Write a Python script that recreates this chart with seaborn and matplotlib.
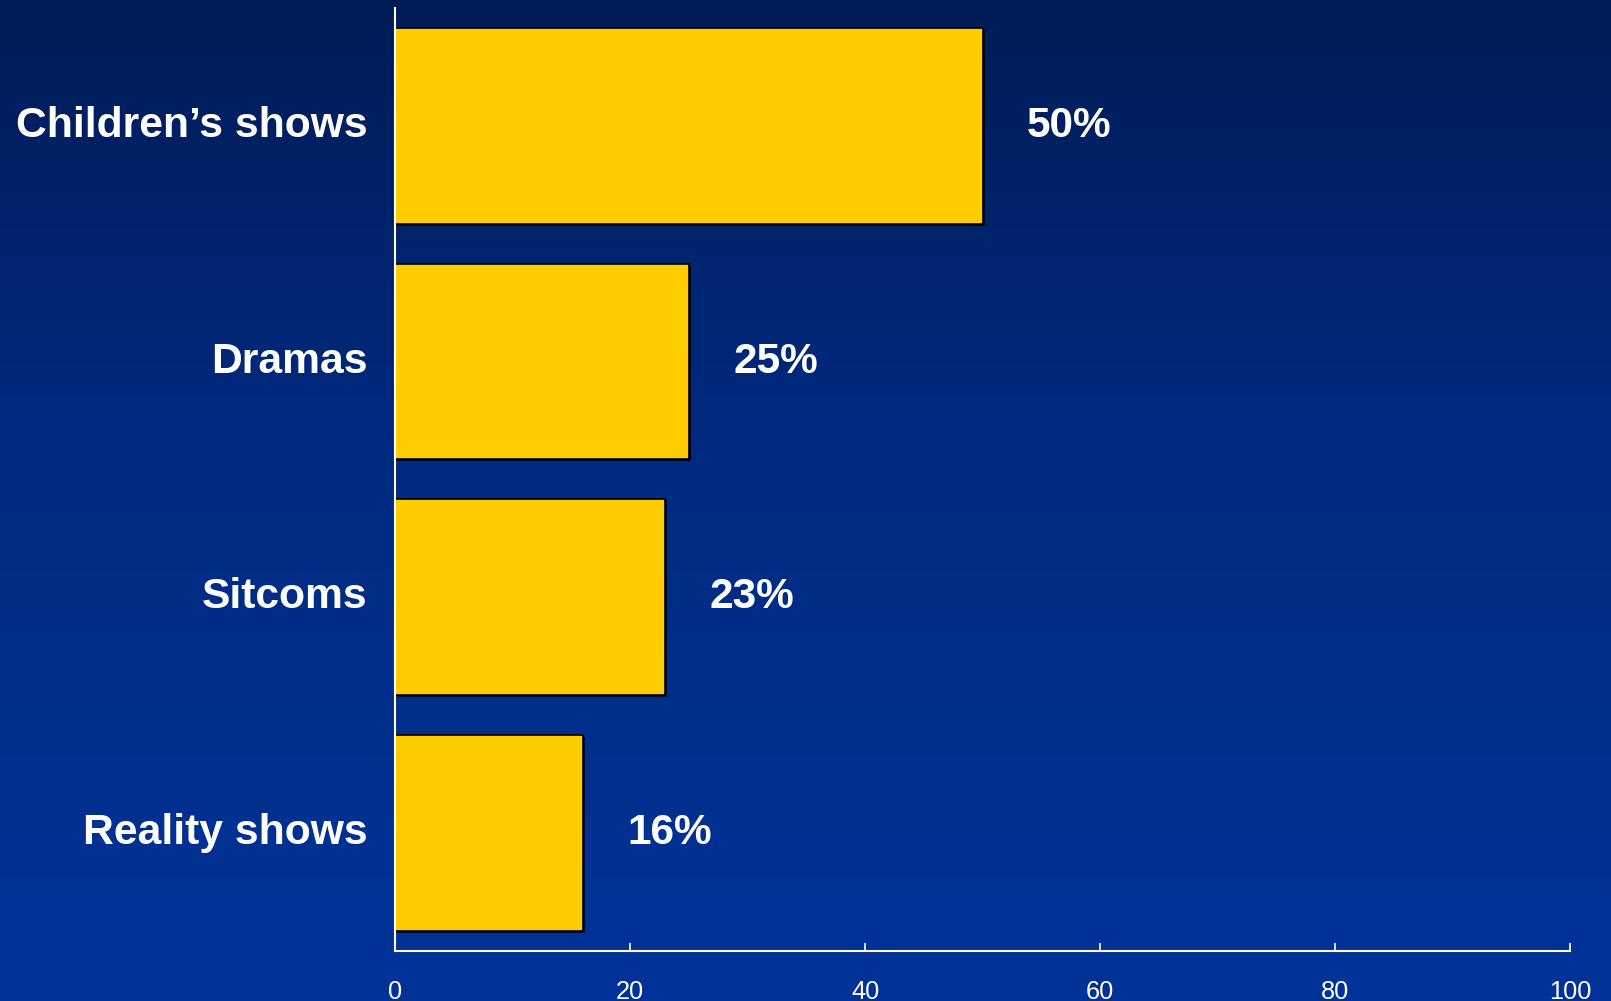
import numpy as np
import pandas as pd
import matplotlib
matplotlib.use("Agg")
import matplotlib.pyplot as plt
import matplotlib.patheffects as pe
from matplotlib.colors import LinearSegmentedColormap
import seaborn as sns

categories = ["Children\u2019s shows", "Dramas", "Sitcoms", "Reality shows"]
values = [50, 25, 23, 16]
value_labels = ["50%", "25%", "23%", "16%"]
x_ticks = [0, 20, 40, 60, 80, 100]

sns.set_theme(style="white")
plt.rcParams["font.family"] = ["Liberation Sans", "DejaVu Sans"]

fig = plt.figure(figsize=(16.11, 10.01), dpi=100)

# background gradient
bg = fig.add_axes([0, 0, 1, 1], zorder=0)
cmap = LinearSegmentedColormap.from_list(
    "bg", [(0.0, "#001C57"), (0.45, "#002A80"), (1.0, "#003399")])
grad = np.linspace(0, 1, 256).reshape(-1, 1)
bg.imshow(grad, aspect="auto", cmap=cmap, extent=[0, 1, 1, 0])
bg.set_axis_off()

ax = fig.add_axes([0.2452, 0.0502, 0.7294, 0.9418], zorder=1)
ax.set_facecolor("none")

df = pd.DataFrame({"category": categories, "value": values})
sns.barplot(data=df, x="value", y="category", orient="h", color="#FFCC00",
            saturation=1, edgecolor="black", linewidth=1.2, width=0.83, ax=ax)

for patch in ax.patches:
    patch.set_path_effects([
        pe.SimplePatchShadow(offset=(1.5, -1.5), shadow_rgbFace="black", alpha=0.7),
        pe.Normal()])

ax.bar_label(ax.containers[0], labels=value_labels, padding=32,
             fontsize=30.5, fontweight="bold", color="white")

ax.set_xlim(0, 100)
ax.set_ylim(3.5, -0.5)
ax.set_xticks(x_ticks)
ax.set_xticklabels([str(t) for t in x_ticks])
ax.set_xlabel("")
ax.set_ylabel("")

for side in ["top", "right"]:
    ax.spines[side].set_visible(False)
for side in ["left", "bottom"]:
    ax.spines[side].set_visible(True)
    ax.spines[side].set_color("white")
    ax.spines[side].set_linewidth(1.5)

ax.tick_params(axis="x", direction="in", length=6, width=1.2, color="white",
               labelcolor="white", labelsize=18.3, pad=21, bottom=True)
ax.tick_params(axis="y", length=0, pad=20, labelcolor="white", labelsize=30.7)
for lbl in ax.get_yticklabels():
    lbl.set_fontweight("bold")
    lbl.set_verticalalignment("center")

fig.savefig("out.png", dpi=100)
